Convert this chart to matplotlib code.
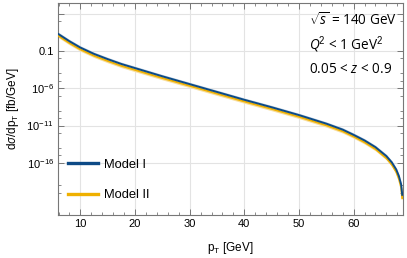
import numpy as np
import matplotlib
matplotlib.use('Agg')
import matplotlib.pyplot as plt
from matplotlib.lines import Line2D

# values (log10 of dsigma/dpT in fb/GeV)
pt = [6.0, 8.0, 10.0, 12.5, 15.0, 17.5, 20.0, 25.0, 30.0, 35.0, 40.0, 45.0,
      50.0, 55.0, 58.0, 60.0, 62.0, 64.0, 66.0, 67.0, 67.8, 68.3, 68.7, 68.9]
logm1 = [1.25, 0.30, -0.55, -1.40, -2.10, -2.75, -3.30, -4.40, -5.45, -6.50,
         -7.55, -8.55, -9.60, -10.75, -11.55, -12.25, -13.00, -13.90, -15.10,
         -15.95, -16.90, -17.80, -18.90, -20.30]
logm2 = [1.02, 0.06, -0.79, -1.64, -2.34, -2.99, -3.54, -4.63, -5.67, -6.72,
         -7.77, -8.77, -9.82, -10.97, -11.77, -12.47, -13.24, -14.15, -15.37,
         -16.24, -17.22, -18.17, -19.30, -20.75]
band = 0.25

blue = '#0d4a86'
blue_band = '#c3d5e6'
yellow = '#efb000'
yellow_band = '#f8de9c'

plt.rcParams['font.family'] = 'Liberation Sans'
plt.rcParams['mathtext.fontset'] = 'custom'
plt.rcParams['mathtext.rm'] = 'Liberation Sans'
plt.rcParams['mathtext.it'] = 'Open Sans:italic'

fig = plt.figure(figsize=(4.07, 2.58), dpi=100)
ax = fig.add_axes([58/407, 1-215/258, 344.5/407, 212/258])

x = np.array(pt)
y1 = 10**np.array(logm1)
y2 = 10**np.array(logm2)
ax.fill_between(x, y1, y1*10**band, color=blue_band, lw=0, zorder=2)
ax.fill_between(x, y2*10**(-band), y2, color=yellow_band, lw=0, zorder=2)
ax.plot(x, y2, color=yellow, lw=1.4, zorder=3)
ax.plot(x, y1, color=blue, lw=1.4, zorder=4)

ax.set_yscale('log')
ax.set_xlim(5.9, 68.95)
ax.set_ylim(1e-23, 10**5.43)

ax.set_xticks([10, 20, 30, 40, 50, 60])
ax.set_xticks(np.arange(6, 69, 2), minor=True)
ax.set_yticks([1e4, 1e-1, 1e-6, 1e-11, 1e-16])
ax.set_yticklabels(['', '0.1', '$10^{-6}$', '$10^{-11}$', '$10^{-16}$'])
ax.set_yticks([1e3, 1e-2, 1e-4, 1e-5, 1e-7, 1e-9, 1e-10, 1e-12, 1e-14,
               1e-15, 1e-19, 1e-20], minor=True)
ax.yaxis.set_minor_formatter(matplotlib.ticker.NullFormatter())

ax.grid(True, which='major', color='#e3e3e3', lw=0.8, zorder=0)
ax.tick_params(which='both', direction='in', top=True, right=True,
               color='#777777', labelsize=8, pad=3)
ax.tick_params(which='major', length=4, width=0.7)
ax.tick_params(which='minor', length=2.5, width=0.6)
for s in ax.spines.values():
    s.set_color('#777777')
    s.set_linewidth(0.8)

ax.set_xlabel(r'p$_\mathrm{T}$ [GeV]', fontsize=8.5, labelpad=8)
ax.set_ylabel(r'd$\sigma$/dp$_\mathrm{T}$ [fb/GeV]', fontsize=8.5, labelpad=4)

tx = (309-58)/344.5
ax.text(tx, 0.915, r'$\sqrt{s}$ = 140 GeV', transform=ax.transAxes,
        family='Open Sans', fontsize=9.8, va='center')
ax.text(tx, 0.802, r'$Q$$^2$ < 1 GeV$^2$', transform=ax.transAxes,
        family='Open Sans', fontsize=9.8, va='center')
ax.text(tx, 0.684, r'0.05 < $z$ < 0.9', transform=ax.transAxes,
        family='Open Sans', fontsize=9.8, va='center')

handles = [Line2D([], [], color=blue, lw=2.4),
           Line2D([], [], color=yellow, lw=2.4)]
ax.legend(handles, ['Model I', 'Model II'], loc='upper left',
          bbox_to_anchor=(0.029, 0.266), frameon=False, fontsize=9.3,
          handlelength=2.3, handletextpad=0.5, labelspacing=1.45,
          borderpad=0, borderaxespad=0)

fig.savefig('out.png', dpi=100)
